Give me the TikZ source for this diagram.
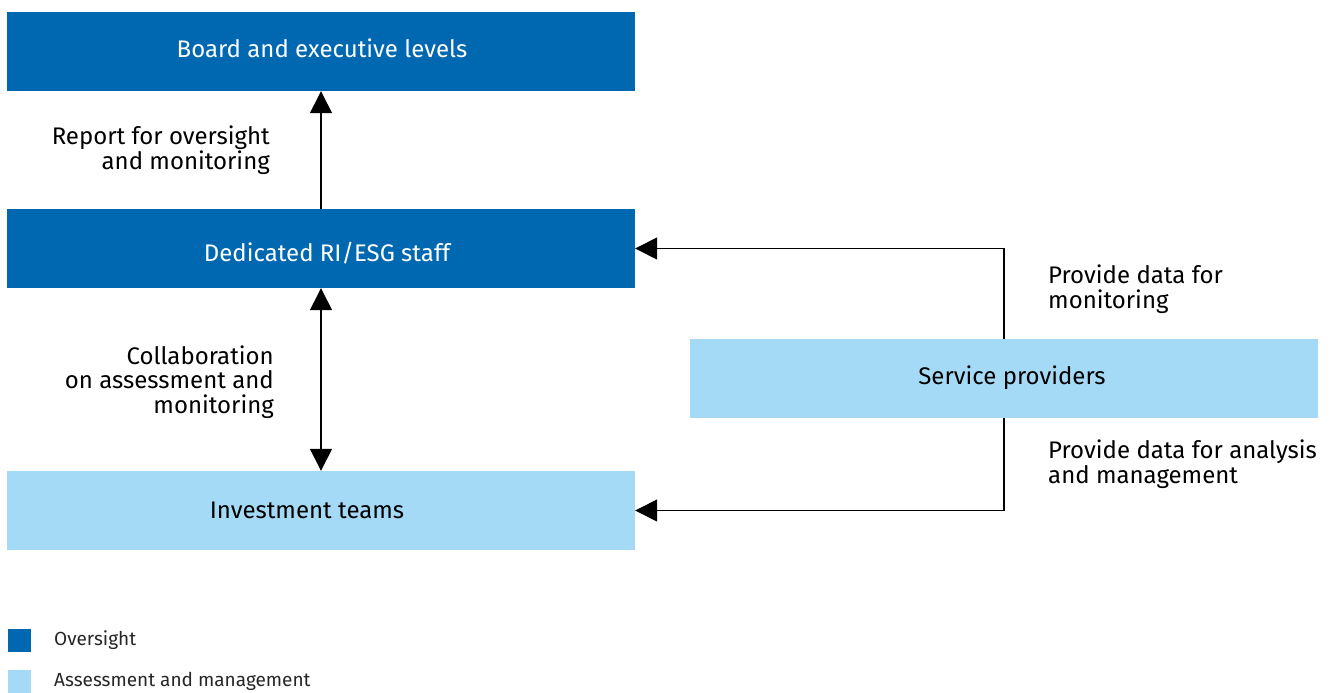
\documentclass[tikz,border=0pt]{standalone}
\usepackage{fontspec}
\setmainfont{Fira Sans}
\usetikzlibrary{arrows.meta}
\definecolor{dkblue}{HTML}{0067B1}
\definecolor{ltblue}{HTML}{A4DAF6}
\begin{document}
\begin{tikzpicture}[x=1pt,y=-1pt,
  box/.style={rectangle,minimum width=628pt,minimum height=79pt,inner sep=0pt},
  dkbox/.style={box,fill=dkblue},
  ltbox/.style={box,fill=ltblue},
  btxt/.style={inner sep=0pt,font=\fontsize{24}{25}\selectfont},
  lbl/.style={inner sep=0pt,font=\fontsize{24}{24.5}\selectfont},
  conn/.style={line width=1.4pt,-{Triangle[width=22pt,length=22pt]}},
  legsq/.style={rectangle,minimum size=23pt,inner sep=0pt},
  legtxt/.style={anchor=west,inner sep=0pt,font=\fontsize{19}{21}\selectfont,text=black!85}]
\useasboundingbox (0,0) rectangle (1333,693);
\node[dkbox] (board) at (321,51.5) {};
\node[dkbox] (ded) at (321,248.5) {};
\node[ltbox] (inv) at (321,510.5) {};
\node[ltbox] (sp) at (1004,378.5) {};
\node[btxt,text=white] (boardt) at (322,48) {Board and executive levels};
\node[btxt,text=white] (dedt) at (327,253) {Dedicated RI/ESG staff};
\node[btxt] (invt) at (307,510) {Investment teams};
\node[btxt] (spt) at (1012,378) {Service providers};
\draw[conn] (ded.north) -- (board.south);
\draw[conn,{Triangle[width=22pt,length=22pt]}-{Triangle[width=22pt,length=22pt]}] (ded.south) -- (inv.north);
\draw[conn] (sp.north) |- (ded.east);
\draw[conn] (sp.south) |- (inv.east);
\node[lbl,align=right,anchor=east] (l1) at (270,150) {Report for oversight\\ and monitoring};
\node[lbl,align=right,anchor=east] (l2) at (274,382) {Collaboration\\ on assessment and \\ monitoring};
\node[lbl,align=left,anchor=west] (l3) at (1048,289) {Provide data for\\monitoring};
\node[lbl,align=left,anchor=west] (l4) at (1048,464) {Provide data for analysis\\and management};
\node[legsq,fill=dkblue] (k1) at (19.5,640.5) {};
\node[legsq,fill=ltblue] (k2) at (19.5,681.5) {};
\node[legtxt] (t1) at (54,640) {Oversight};
\node[legtxt] (t2) at (54,681) {Assessment and management};
\end{tikzpicture}
\end{document}
